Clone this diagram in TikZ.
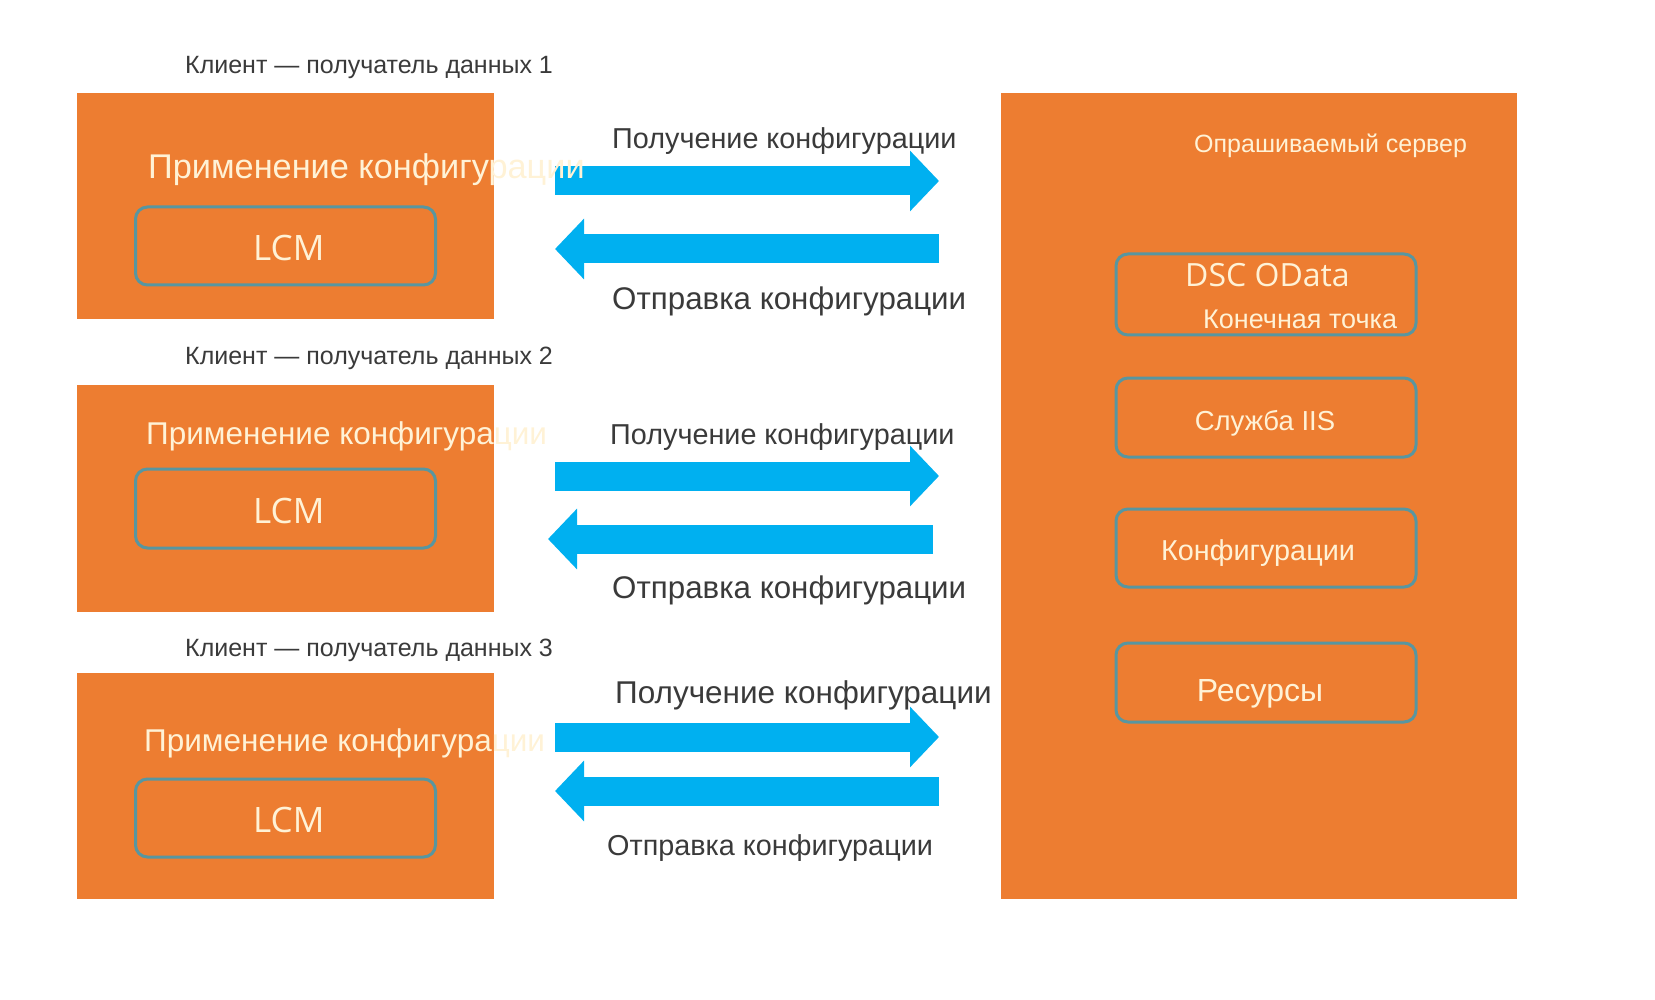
\documentclass[tikz,border=0pt]{standalone}
\usepackage{fontspec}
\setmainfont{Liberation Sans}
\newfontfamily\segoe{Open Sans}
\usetikzlibrary{arrows.meta}
\definecolor{boxorange}{HTML}{ED7D31}
\definecolor{arrowblue}{HTML}{00B0F0}
\definecolor{rimteal}{RGB}{88,150,160}
\definecolor{cream}{RGB}{255,242,214}
\definecolor{labelgrey}{RGB}{58,58,58}
\begin{document}
\begin{tikzpicture}[x=1pt,y=-1pt,
  panel/.style={fill=boxorange, draw=none, inner sep=0pt, outer sep=0pt},
  inbox/.style={draw=rimteal, line width=3pt, rounded corners=12pt, inner sep=0pt,
    minimum width=300pt},
  fs/.style={font=\fontsize{#1}{#1}\selectfont},
  grey/.style={text=labelgrey, inner sep=0pt, anchor=west},
  creamtxt/.style={text=cream, inner sep=0pt},
  blockarrow/.style={draw=arrowblue, line width=29pt,
    -{Triangle[length=29pt, width=59pt]}},
]
\useasboundingbox (0,0) rectangle (1655,1000);
% client panels
\node[panel, minimum width=417pt, minimum height=226pt] (client1) at (285.5,206) {};
\node[panel, minimum width=417pt, minimum height=227pt] (client2) at (285.5,498.5) {};
\node[panel, minimum width=417pt, minimum height=226pt] (client3) at (285.5,786) {};
% server panel
\node[panel, minimum width=516pt, minimum height=806pt] (server) at (1259,496) {};

% arrow endpoints
\coordinate (r1a) at (555,181);  \coordinate (r1b) at (939,181);
\coordinate (l1a) at (939,249);  \coordinate (l1b) at (555,249);
\coordinate (r2a) at (555,476);  \coordinate (r2b) at (939,476);
\coordinate (l2a) at (933,539);  \coordinate (l2b) at (548,539);
\coordinate (r3a) at (555,737);  \coordinate (r3b) at (939,737);
\coordinate (l3a) at (939,791);  \coordinate (l3b) at (555,791);
\draw[blockarrow] (r1a) -- (r1b);
\draw[blockarrow] (l1a) -- (l1b);
\draw[blockarrow] (r2a) -- (r2b);
\draw[blockarrow] (l2a) -- (l2b);
\draw[blockarrow] (r3a) -- (r3b);
\draw[blockarrow] (l3a) -- (l3b);

% client labels
\node[grey, fs=25] (lab1) at (185,67) {Клиент — получатель данных 1};
\node[grey, fs=25] (lab2) at (185,358) {Клиент — получатель данных 2};
\node[grey, fs=25] (lab3) at (185,650) {Клиент — получатель данных 3};

% apply configuration texts
\node[creamtxt, anchor=west, fs=34.3] (app1) at (148,170) {Применение конфигурации};
\node[creamtxt, anchor=west, fs=31.5] (app2) at (146,436) {Применение конфигурации};
\node[creamtxt, anchor=west, fs=31.5] (app3) at (144,743) {Применение конфигурации};

% LCM boxes
\node[inbox, minimum height=78pt] (lcm1) at (285.5,246) {};
\node[inbox, minimum height=79pt] (lcm2) at (285.5,508.5) {};
\node[inbox, minimum height=78pt] (lcm3) at (285.5,818) {};
\node[creamtxt, anchor=west, font=\segoe\fontsize{35}{35}\selectfont] (lcmt1) at (253,248) {LCM};
\node[creamtxt, anchor=west, font=\segoe\fontsize{35}{35}\selectfont] (lcmt2) at (253,511) {LCM};
\node[creamtxt, anchor=west, font=\segoe\fontsize{35}{35}\selectfont] (lcmt3) at (253,820) {LCM};

% server content
\node[creamtxt, anchor=west, fs=25] (srv) at (1194,146) {Опрашиваемый сервер};
\node[inbox, minimum height=81pt] (odata) at (1266,294.5) {};
\node[inbox, minimum height=79pt] (iis) at (1266,417.5) {};
\node[inbox, minimum height=78pt] (conf) at (1266,548) {};
\node[inbox, minimum height=79pt] (res) at (1266,682.5) {};
\node[creamtxt, anchor=west, font=\segoe\fontsize{32}{32}\selectfont] (odatat) at (1185,275) {DSC OData};
\node[creamtxt, anchor=west, fs=27, fill=boxorange, inner sep=1pt] (endpt) at (1202,319) {Конечная точка};
\node[creamtxt, fs=27.5] (iist) at (1265,423) {Служба IIS};
\node[creamtxt, fs=28.8] (conft) at (1258,553) {Конфигурации};
\node[creamtxt, fs=32] (rest) at (1260,694) {Ресурсы};

% arrow labels
\node[grey, fs=28.8] (get1) at (612,141) {Получение конфигурации};
\node[grey, fs=31.3] (send1) at (612,301) {Отправка конфигурации};
\node[grey, fs=28.8] (get2) at (610,437) {Получение конфигурации};
\node[grey, fs=31.3] (send2) at (612,590) {Отправка конфигурации};
\node[grey, fs=31.5] (get3) at (615,695) {Получение конфигурации};
\node[grey, fs=28.8] (send3) at (607,848) {Отправка конфигурации};
\end{tikzpicture}
\end{document}
